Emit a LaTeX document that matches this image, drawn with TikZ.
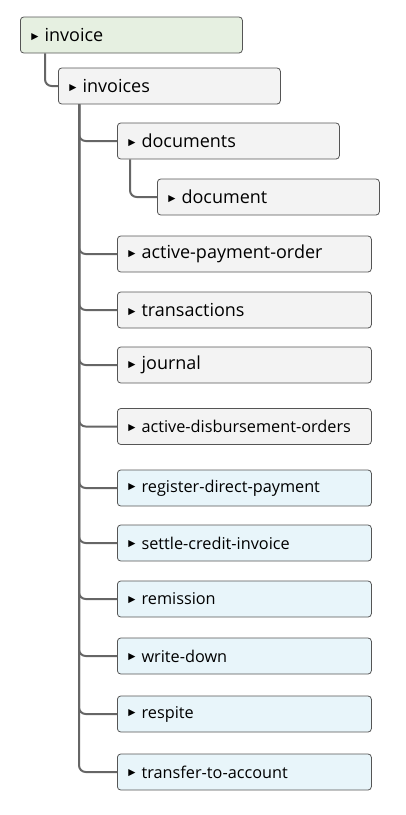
\documentclass[tikz,border=0pt]{standalone}
\usepackage{fontspec}
\setmainfont{Open Sans}
\newfontfamily\symfont{DejaVu Sans}
\usetikzlibrary{positioning, calc}
\definecolor{lineGray}{HTML}{666666}
\definecolor{edgeGray}{HTML}{555555}
\definecolor{rootGreen}{HTML}{E6F0E1}
\definecolor{boxGray}{HTML}{F3F3F3}
\definecolor{cmdBlue}{HTML}{E8F5FA}
\newcommand{\treetip}{{\symfont\fontsize{7pt}{7pt}\selectfont\raisebox{0.45ex}{▶}}\hspace{4.5pt}}

\begin{document}
\begin{tikzpicture}[x=0.75pt, y=-0.75pt,
    item/.style={draw=edgeGray, rounded corners=2.5pt, line width=0.6pt,
      minimum height=27pt, inner ysep=0pt, inner xsep=8.25pt,
      anchor=west, align=left, font=\fontsize{13.5}{16}\selectfont},
    small/.style={font=\fontsize{12.2}{14}\selectfont},
    narrow/.style={text width=150pt},
    wide/.style={text width=174pt},
    link/.style={draw=lineGray, line width=1.5pt, rounded corners=5pt}]
  \useasboundingbox (0,0) rectangle (406,815);
  % Root and first level
  \node[item, narrow, fill=rootGreen] (invoice) at (20,35) {\treetip invoice};
  \node[item, narrow, fill=boxGray] (invoices) at (58,86) {\treetip invoices};
  % Second level
  \node[item, narrow, fill=boxGray] (documents) at (117,141) {\treetip documents};
  \node[item, narrow, fill=boxGray] (document) at (157,197) {\treetip document};
  \node[item, wide, fill=boxGray] (payorder) at (117,254) {\treetip active-payment-order};
  \node[item, wide, fill=boxGray] (transactions) at (117,310) {\treetip transactions};
  \node[item, wide, fill=boxGray] (journal) at (117,365) {\treetip journal};
  \node[item, wide, small, fill=boxGray] (disburse) at (117,426.5) {\treetip active-disbursement-orders};
  % Commands
  \node[item, wide, small, fill=cmdBlue] (directpay) at (117,488) {\treetip register-direct-payment};
  \node[item, wide, small, fill=cmdBlue] (settle) at (117,543) {\treetip settle-credit-invoice};
  \node[item, wide, small, fill=cmdBlue] (remission) at (117,599) {\treetip remission};
  \node[item, wide, small, fill=cmdBlue] (writedown) at (117,656) {\treetip write-down};
  \node[item, wide, small, fill=cmdBlue] (respite) at (117,714) {\treetip respite};
  \node[item, wide, small, fill=cmdBlue] (transfer) at (117,772) {\treetip transfer-to-account};
  % Connectors
  \draw[link] ($(invoice.south west)+(25,0)$) |- (invoices.west);
  \draw[link] ($(documents.south west)+(13,0)$) |- (document.west);
  \foreach \c in {documents, payorder, transactions, journal, disburse,
      directpay, settle, remission, writedown, respite, transfer}
    \draw[link] ($(invoices.south west)+(21,0)$) |- (\c.west);
\end{tikzpicture}
\end{document}
